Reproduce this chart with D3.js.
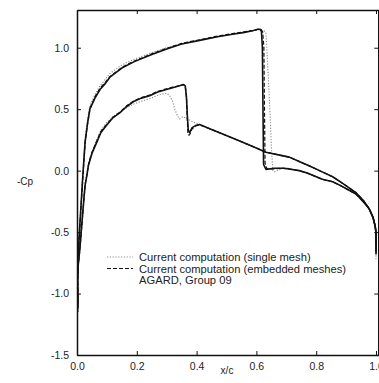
<!DOCTYPE html>
<html>
<head>
<meta charset="utf-8">
<script src="https://cdn.jsdelivr.net/npm/d3@7"></script>
<style>
  html, body { margin: 0; padding: 0; background: #fff; }
  svg { display: block; }
  text { font-family: "Liberation Sans", Arial, Helvetica, sans-serif; fill: #222; }
</style>
</head>
<body>
<svg id="chart" width="379" height="383"></svg>
<script>
// ---------- data (x/c and -Cp) ----------
const xTicks = [0.0, 0.2, 0.4, 0.6, 0.8, 1.0];
const yTicks = [-1.5, -1.0, -0.5, 0.0, 0.5, 1.0];

const legendLabels = [
  "Current computation (single mesh)",
  "Current computation (embedded meshes)",
  "AGARD, Group 09"
];

// Upper (shocked at ~0.62) curve
const upperAgardX = [0.002, 0.001, 0.003, 0.008, 0.013, 0.018, 0.022, 0.027, 0.035, 0.043, 0.06, 0.077, 0.095, 0.11, 0.15, 0.19, 0.25, 0.30, 0.35, 0.41, 0.47, 0.52, 0.56, 0.59, 0.605, 0.613, 0.617, 0.620, 0.622, 0.624, 0.632, 0.66, 0.688, 0.71, 0.743, 0.77, 0.80, 0.82, 0.855, 0.88, 0.91, 0.933, 0.945, 0.96, 0.977, 0.99, 0.997, 1.0, 1.0];
const upperAgardY = [-1.15, -0.9, -0.72, -0.5, -0.3, -0.1, 0.05, 0.23, 0.38, 0.50, 0.59, 0.66, 0.71, 0.76, 0.835, 0.885, 0.945, 0.99, 1.03, 1.06, 1.09, 1.11, 1.125, 1.14, 1.15, 1.15, 1.13, 1.0, 0.5, 0.05, 0.01, 0.02, 0.02, 0.014, 0.0, -0.02, -0.05, -0.07, -0.09, -0.12, -0.16, -0.19, -0.22, -0.26, -0.31, -0.38, -0.45, -0.5, -0.68];

const upperEmbX = [0.003, 0.002, 0.004, 0.009, 0.014, 0.019, 0.023, 0.028, 0.036, 0.044, 0.06, 0.077, 0.095, 0.11, 0.15, 0.19, 0.25, 0.30, 0.35, 0.41, 0.47, 0.52, 0.56, 0.59, 0.605, 0.615, 0.621, 0.625, 0.627, 0.629, 0.635, 0.66, 0.688, 0.71, 0.743, 0.77, 0.80, 0.82, 0.855, 0.88, 0.91, 0.933, 0.945, 0.96, 0.977, 0.99, 0.997, 1.0, 1.0];
const upperEmbY = [-1.1, -0.88, -0.7, -0.48, -0.28, -0.08, 0.07, 0.25, 0.39, 0.51, 0.6, 0.67, 0.72, 0.765, 0.84, 0.89, 0.95, 0.995, 1.035, 1.065, 1.095, 1.115, 1.13, 1.14, 1.15, 1.15, 1.13, 1.0, 0.5, 0.06, 0.015, 0.015, 0.02, 0.012, 0.0, -0.02, -0.05, -0.07, -0.09, -0.12, -0.16, -0.19, -0.22, -0.26, -0.31, -0.38, -0.45, -0.52, -0.62];

const upperSingleX = [0.002, 0.001, 0.003, 0.008, 0.013, 0.018, 0.022, 0.027, 0.035, 0.043, 0.06, 0.077, 0.095, 0.11, 0.15, 0.19, 0.25, 0.30, 0.35, 0.41, 0.47, 0.52, 0.56, 0.59, 0.61, 0.625, 0.632, 0.637, 0.645, 0.651, 0.655, 0.66, 0.688, 0.71, 0.743, 0.77, 0.80, 0.82, 0.855, 0.88, 0.91, 0.933, 0.945, 0.96, 0.977, 0.99, 0.997, 1.0, 1.0];
const upperSingleY = [-1.12, -0.92, -0.74, -0.52, -0.3, -0.08, 0.08, 0.26, 0.41, 0.53, 0.62, 0.69, 0.745, 0.79, 0.86, 0.905, 0.96, 1.0, 1.03, 1.06, 1.09, 1.11, 1.125, 1.14, 1.145, 1.14, 1.12, 0.9, 0.5, 0.15, 0.0, -0.01, 0.02, 0.014, 0.0, -0.02, -0.05, -0.07, -0.09, -0.12, -0.16, -0.19, -0.22, -0.26, -0.31, -0.38, -0.45, -0.55, -0.7];

// Lower (shocked at ~0.37) curve
const lowerAgardX = [0.003, 0.002, 0.004, 0.007, 0.010, 0.014, 0.019, 0.023, 0.027, 0.033, 0.038, 0.05, 0.066, 0.08, 0.099, 0.12, 0.143, 0.165, 0.188, 0.215, 0.243, 0.27, 0.299, 0.32, 0.343, 0.356, 0.362, 0.366, 0.369, 0.372, 0.377, 0.385, 0.399, 0.41, 0.45, 0.52, 0.58, 0.632, 0.69, 0.71, 0.743, 0.78, 0.82, 0.855, 0.88, 0.91, 0.933, 0.945, 0.96, 0.977, 0.99, 0.997, 1.0, 1.0];
const lowerAgardY = [-1.12, -0.9, -0.77, -0.7, -0.62, -0.5, -0.35, -0.23, -0.12, -0.04, 0.04, 0.14, 0.23, 0.31, 0.37, 0.43, 0.47, 0.52, 0.56, 0.59, 0.61, 0.64, 0.66, 0.675, 0.69, 0.70, 0.69, 0.6, 0.45, 0.33, 0.31, 0.35, 0.37, 0.375, 0.335, 0.265, 0.205, 0.15, 0.12, 0.11, 0.075, 0.035, -0.01, -0.05, -0.09, -0.14, -0.18, -0.21, -0.25, -0.31, -0.38, -0.45, -0.5, -0.66];

const lowerEmbX = [0.004, 0.003, 0.005, 0.008, 0.011, 0.015, 0.02, 0.024, 0.028, 0.034, 0.039, 0.05, 0.066, 0.08, 0.099, 0.12, 0.143, 0.165, 0.188, 0.215, 0.243, 0.27, 0.299, 0.32, 0.343, 0.356, 0.362, 0.366, 0.369, 0.371, 0.376, 0.385, 0.399, 0.41, 0.45, 0.52, 0.58, 0.632, 0.69, 0.71, 0.743, 0.78, 0.82, 0.855, 0.88, 0.91, 0.933, 0.945, 0.96, 0.977, 0.99, 0.997, 1.0, 1.0];
const lowerEmbY = [-1.08, -0.88, -0.75, -0.68, -0.6, -0.48, -0.33, -0.21, -0.1, -0.02, 0.06, 0.15, 0.24, 0.32, 0.375, 0.435, 0.475, 0.525, 0.565, 0.595, 0.615, 0.645, 0.665, 0.68, 0.69, 0.70, 0.69, 0.6, 0.42, 0.29, 0.29, 0.34, 0.365, 0.372, 0.335, 0.265, 0.205, 0.15, 0.12, 0.11, 0.075, 0.035, -0.01, -0.05, -0.09, -0.14, -0.18, -0.21, -0.25, -0.31, -0.38, -0.45, -0.5, -0.6];

const lowerSingleX = [0.003, 0.002, 0.004, 0.007, 0.010, 0.014, 0.019, 0.023, 0.027, 0.033, 0.038, 0.05, 0.066, 0.08, 0.099, 0.12, 0.143, 0.165, 0.188, 0.215, 0.243, 0.277, 0.30, 0.31, 0.32, 0.327, 0.335, 0.343, 0.354, 0.37, 0.385, 0.399, 0.41, 0.45, 0.52, 0.58, 0.632, 0.69, 0.71, 0.743, 0.78, 0.82, 0.855, 0.88, 0.91, 0.933, 0.945, 0.96, 0.977, 0.99, 0.997, 1.0, 1.0];
const lowerSingleY = [-1.15, -0.92, -0.78, -0.72, -0.64, -0.52, -0.36, -0.24, -0.12, -0.03, 0.05, 0.15, 0.25, 0.33, 0.39, 0.44, 0.475, 0.51, 0.54, 0.565, 0.585, 0.62, 0.63, 0.61, 0.56, 0.50, 0.45, 0.42, 0.44, 0.42, 0.40, 0.385, 0.378, 0.335, 0.265, 0.205, 0.15, 0.12, 0.11, 0.075, 0.035, -0.01, -0.05, -0.09, -0.14, -0.18, -0.21, -0.25, -0.31, -0.38, -0.45, -0.52, -0.72];

// ---------- layout ----------
const svg = d3.select("#chart");
const mLeft = 77, mRight = 379, mTop = 10, mBottom = 355;

const x = d3.scaleLinear().domain([0, 1.01]).range([mLeft, mRight]);
const y = d3.scaleLinear().domain([-1.5, 1.307]).range([mBottom, mTop]);

const zip = (xs, ys) => xs.map((v, i) => [v, ys[i]]);
const line = d3.line().x(d => x(d[0])).y(d => y(d[1])).curve(d3.curveLinear);

const styles = {
  single: { stroke: "#8a8a8a", width: 1.1, dash: "1.2,1.6" },
  emb:    { stroke: "#111",    width: 1.2, dash: "4,2" },
  agard:  { stroke: "#111",    width: 1.6, dash: null }
};

const series = [
  { xs: upperSingleX, ys: upperSingleY, s: styles.single },
  { xs: lowerSingleX, ys: lowerSingleY, s: styles.single },
  { xs: upperEmbX,    ys: upperEmbY,    s: styles.emb },
  { xs: lowerEmbX,    ys: lowerEmbY,    s: styles.emb },
  { xs: upperAgardX,  ys: upperAgardY,  s: styles.agard },
  { xs: lowerAgardX,  ys: lowerAgardY,  s: styles.agard }
];

svg.append("defs").append("clipPath").attr("id", "clip")
  .append("rect").attr("x", mLeft).attr("y", mTop)
  .attr("width", mRight - mLeft).attr("height", mBottom - mTop);

const g = svg.append("g").attr("clip-path", "url(#clip)");
series.forEach(sr => {
  g.append("path")
    .attr("d", line(zip(sr.xs, sr.ys)))
    .attr("fill", "none")
    .attr("stroke", sr.s.stroke)
    .attr("stroke-width", sr.s.width)
    .attr("stroke-linejoin", "round")
    .attr("stroke-dasharray", sr.s.dash);
});

// ---------- axes (ticks inward, labels outside) ----------
const fmt = d3.format(".1f");
const fmtY = d => fmt(d).replace("\u2212", "-");
const bottomAxis = d3.axisBottom(x).tickValues(xTicks).tickFormat(fmt).tickSizeInner(-4).tickSizeOuter(0).tickPadding(8);
const leftAxis = d3.axisLeft(y).tickValues(yTicks).tickFormat(fmtY).tickSizeInner(-4).tickSizeOuter(0).tickPadding(8);
const topAxis = d3.axisTop(x).tickValues(xTicks).tickFormat("").tickSizeInner(-4).tickSizeOuter(0);
const rightAxis = d3.axisRight(y).tickValues(yTicks).tickFormat("").tickSizeInner(-4).tickSizeOuter(0);

function styleAxis(sel) {
  sel.select(".domain").attr("stroke", "#111").attr("stroke-width", 1.5);
  sel.selectAll(".tick line").attr("stroke", "#111").attr("stroke-width", 1);
  sel.selectAll(".tick text").attr("font-size", 10.5).attr("fill", "#222")
     .attr("font-family", "'Liberation Sans', Arial, sans-serif");
}

svg.append("g").attr("transform", `translate(0,${mBottom})`).call(bottomAxis).call(styleAxis);
svg.append("g").attr("transform", `translate(${mLeft},0)`).call(leftAxis).call(styleAxis);
svg.append("g").attr("transform", `translate(0,${mTop})`).call(topAxis).call(styleAxis);
svg.append("g").attr("transform", `translate(${mRight - 0.75},0)`).call(rightAxis).call(styleAxis);

// axis titles
svg.append("text").attr("x", 25).attr("y", 185).attr("text-anchor", "middle")
  .attr("font-size", 10).text("-Cp");
svg.append("text").attr("x", 227).attr("y", 374).attr("text-anchor", "middle")
  .attr("font-size", 10).text("x/c");

// ---------- legend ----------
const legY = [257, 268.5, 280];
const legStyles = [styles.single, styles.emb, null];
legendLabels.forEach((lab, i) => {
  const s = legStyles[i];
  if (s) {
    svg.append("line").attr("x1", 107).attr("x2", 133).attr("y1", legY[i]).attr("y2", legY[i])
      .attr("stroke", s.stroke).attr("stroke-width", 1).attr("stroke-dasharray", s.dash);
  }
  svg.append("text").attr("x", 139).attr("y", legY[i] + 4)
    .attr("font-size", 11.2).text(lab);
});
</script>
</body>
</html>
